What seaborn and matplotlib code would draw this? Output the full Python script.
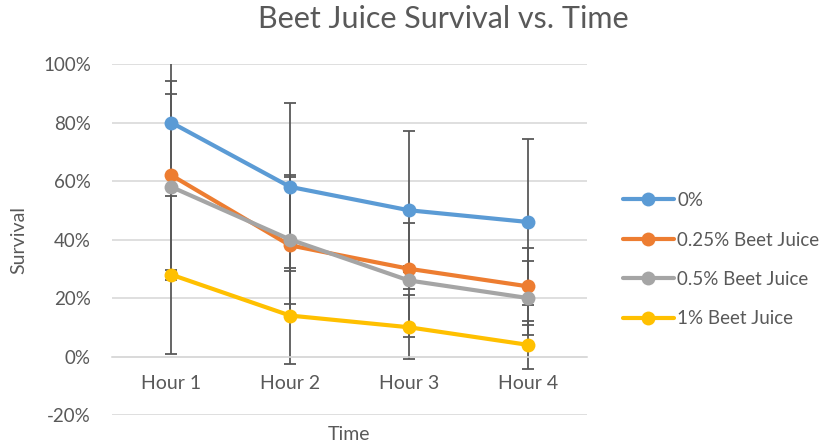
import numpy as np
import pandas as pd
import matplotlib
matplotlib.use("Agg")
import matplotlib.pyplot as plt
import seaborn as sns
from matplotlib.ticker import PercentFormatter

hours  = ["Hour 1", "Hour 2", "Hour 3", "Hour 4"]
series = ["0%", "0.25% Beet Juice", "0.5% Beet Juice", "1% Beet Juice"]

surv_0   = [80, 58, 50, 46]
surv_025 = [62, 38, 30, 24]
surv_05  = [58, 40, 26, 20]
surv_1   = [28, 14, 10, 4]

err_0   = [22, 28.8, 27, 28.3]
err_025 = [32.3, 23.5, 1.0, 13.1]
err_05  = [31.8, 22, 19.5, 12.5]
err_1   = [27, 16.4, 11, 8.2]

colors = ["#5B9BD5", "#ED7D31", "#A5A5A5", "#FFC000"]
TXT = "#595959"
GRID = "#D9D9D9"

values = [surv_0, surv_025, surv_05, surv_1]
errors = [err_0, err_025, err_05, err_1]

df = pd.DataFrame({
    "Time":     hours * len(series),
    "Survival": np.concatenate(values),
    "Series":   np.repeat(series, len(hours)),
})

sns.set_style("white")
plt.rcParams["font.family"] = ["Lato", "DejaVu Sans"]
plt.rcParams["axes.unicode_minus"] = False

fig = plt.figure(figsize=(8.28, 4.46), dpi=100)
ax = fig.add_axes([0.135, 0.0695, 0.574, 0.787])

# error bars go under the lines, like in the excel chart
x = np.arange(len(hours))
for vals, errs in zip(values, errors):
    ax.errorbar(x, vals, yerr=errs, fmt="none", ecolor=TXT, elinewidth=1.3,
                capsize=4, capthick=1.3, zorder=2)

sns.lineplot(data=df, x="Time", y="Survival", hue="Series", hue_order=series,
             palette=colors, marker="o", markersize=10, markeredgewidth=0,
             linewidth=3, sort=False, ax=ax, zorder=3)

ax.set_xlim(-0.5, 3.5)
ax.set_ylim(-20, 100)
ax.set_yticks(np.arange(-20, 101, 20))
ax.yaxis.set_major_formatter(PercentFormatter(decimals=0))
ax.grid(axis="y", color=GRID, linewidth=1.2)
ax.set_axisbelow(True)

for s in ["top", "right", "left"]:
    ax.spines[s].set_visible(False)
ax.spines["bottom"].set_position(("data", 0))
ax.spines["bottom"].set_color(GRID)
ax.spines["bottom"].set_linewidth(1.2)

ax.tick_params(axis="x", length=0, pad=13, labelsize=14, labelcolor=TXT)
ax.tick_params(axis="y", length=0, pad=15, labelsize=13.5, labelcolor=TXT)

ax.set_xlabel("Time", fontsize=14, color=TXT)
ax.xaxis.set_label_coords(0.5, -0.032)
ax.set_ylabel("Survival", fontsize=14, color=TXT)
ax.yaxis.set_label_coords(-0.177, 0.5)

fig.text(0.535, 0.958, "Beet Juice Survival vs. Time", ha="center", va="center",
         fontsize=22, color=TXT)

handles, labels = ax.get_legend_handles_labels()
ax.legend(handles, labels, loc="upper left", bbox_to_anchor=(623 / 828, 1 - 192 / 446),
          bbox_transform=fig.transFigure, frameon=False, fontsize=13.5,
          labelcolor=TXT, handlelength=2.7, handletextpad=0.2,
          labelspacing=1.2, borderpad=0, borderaxespad=0)

fig.savefig("out.png", dpi=100)
